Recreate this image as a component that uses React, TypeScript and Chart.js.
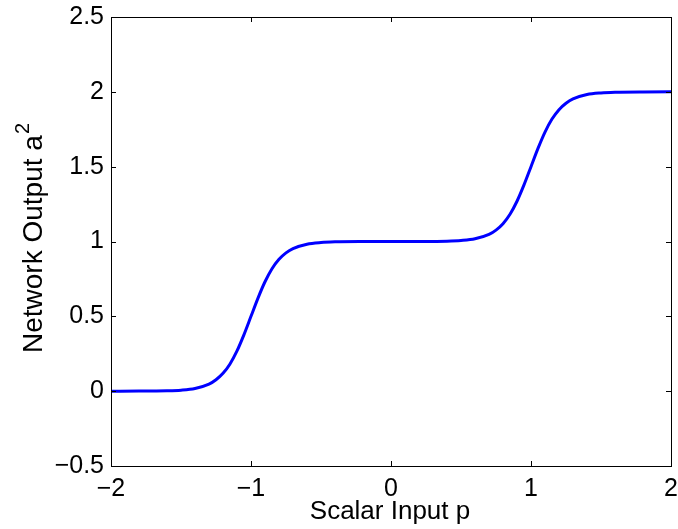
import React, { useEffect, useRef } from "react";
import { Chart, registerables } from "chart.js";

Chart.register(...registerables);

// Scalar input p (x) and network output a^2 (y)
const pValues = [
  -2, -1.8, -1.6, -1.5, -1.4, -1.3, -1.25, -1.2, -1.15, -1.1, -1.05, -1,
  -0.95, -0.9, -0.85, -0.8, -0.75, -0.7, -0.6, -0.5, -0.4, -0.2, 0,
  0.2, 0.4, 0.5, 0.6, 0.7, 0.75, 0.8, 0.85, 0.9, 0.95, 1,
  1.05, 1.1, 1.15, 1.2, 1.25, 1.3, 1.4, 1.5, 1.6, 1.8, 2,
];
const aValues = [
  0.0, 0.0003, 0.0025, 0.0067, 0.018, 0.047, 0.076, 0.119, 0.182, 0.269, 0.378, 0.5,
  0.622, 0.731, 0.818, 0.881, 0.924, 0.953, 0.982, 0.993, 0.9975, 0.9997, 1.0,
  1.0003, 1.0025, 1.007, 1.018, 1.047, 1.076, 1.119, 1.182, 1.269, 1.378, 1.5,
  1.622, 1.731, 1.818, 1.881, 1.924, 1.953, 1.982, 1.993, 1.9975, 1.9997, 2.0,
];

const xTicks = [-2, -1, 0, 1, 2];
const yTicks = [-0.5, 0, 0.5, 1, 1.5, 2, 2.5];
const xTitle = "Scalar Input p";
const yTitleMain = "Network Output a";
const yTitleSup = "2";

const FONT = "'Liberation Sans', Arial, Helvetica, sans-serif";
const TICK_SIZE = 25;
const XTITLE_SIZE = 26;
const YTITLE_SIZE = 28;

const fmt = (v: number) => String(v).replace("-", "\u2212");

const framePlugin = {
  id: "matlabFrame",
  afterDatasetsDraw(chart: any) {
    const { ctx, chartArea } = chart;
    const { left, right, top, bottom } = chartArea;
    const xs = chart.scales.x;
    const ys = chart.scales.y;
    ctx.save();
    ctx.strokeStyle = "#000";
    ctx.lineWidth = 1;
    ctx.beginPath();
    const tl = 5;
    xTicks.forEach((v) => {
      const px = Math.round(xs.getPixelForValue(v)) + 0.5;
      ctx.moveTo(px, bottom);
      ctx.lineTo(px, bottom - tl);
      ctx.moveTo(px, top);
      ctx.lineTo(px, top + tl);
    });
    yTicks.forEach((v) => {
      const py = Math.round(ys.getPixelForValue(v)) + 0.5;
      ctx.moveTo(left, py);
      ctx.lineTo(left + tl, py);
      ctx.moveTo(right, py);
      ctx.lineTo(right - tl, py);
    });
    ctx.stroke();
    ctx.strokeRect(
      Math.round(left) + 0.5,
      Math.round(top) + 0.5,
      Math.round(right - left),
      Math.round(bottom - top)
    );

    // axis titles
    ctx.fillStyle = "#000";
    ctx.font = `${XTITLE_SIZE}px ${FONT}`;
    ctx.textAlign = "center";
    ctx.textBaseline = "alphabetic";
    ctx.fillText(xTitle, (left + right) / 2 - 1, 519);

    ctx.font = `${YTITLE_SIZE}px ${FONT}`;
    const wMain = ctx.measureText(yTitleMain).width;
    const supSize = Math.round(YTITLE_SIZE * 0.7);
    ctx.font = `${supSize}px ${FONT}`;
    const wSup = ctx.measureText(yTitleSup).width;
    const total = wMain + wSup + 1;
    const cy = 238;
    ctx.translate(42, cy + total / 2);
    ctx.rotate(-Math.PI / 2);
    ctx.textAlign = "left";
    ctx.font = `${YTITLE_SIZE}px ${FONT}`;
    ctx.fillText(yTitleMain, 0, 0);
    ctx.font = `${supSize}px ${FONT}`;
    ctx.fillText(yTitleSup, wMain + 1, -YTITLE_SIZE * 0.45);
    ctx.restore();
  },
};

const zeroPad = (s: any) => {
  s.paddingLeft = 0;
  s.paddingRight = 0;
  s.paddingTop = 0;
  s.paddingBottom = 0;
};

export default function App() {
  const ref = useRef<HTMLCanvasElement | null>(null);

  useEffect(() => {
    if (!ref.current) return;
    const data = pValues.map((p, i) => ({ x: p, y: aValues[i] }));
    const chart = new Chart(ref.current, {
      type: "line",
      data: {
        datasets: [
          {
            data,
            borderColor: "#0000ff",
            borderWidth: 3,
            pointRadius: 0,
            cubicInterpolationMode: "monotone",
            fill: false,
          },
        ],
      },
      options: {
        responsive: false,
        animation: false,
        devicePixelRatio: 1,
        layout: { padding: { left: 0, right: 7, top: 17, bottom: 0 } },
        plugins: {
          legend: { display: false },
          tooltip: { enabled: false },
          title: { display: false },
        },
        scales: {
          x: {
            type: "linear",
            min: -2,
            max: 2,
            afterBuildTicks: (s: any) => {
              s.ticks = xTicks.map((v) => ({ value: v }));
            },
            afterFit: (s: any) => {
              s.height = 63;
              zeroPad(s);
            },
            ticks: {
              color: "#000",
              font: { family: FONT, size: TICK_SIZE },
              padding: 8,
              maxRotation: 0,
              autoSkip: false,
              callback: (v: any) => fmt(Number(v)),
            },
            grid: { display: false, drawTicks: false },
            border: { display: false },
          },
          y: {
            type: "linear",
            min: -0.5,
            max: 2.5,
            afterBuildTicks: (s: any) => {
              s.ticks = yTicks.map((v) => ({ value: v }));
            },
            afterFit: (s: any) => {
              s.width = 111;
              zeroPad(s);
            },
            ticks: {
              color: "#000",
              font: { family: FONT, size: TICK_SIZE },
              padding: 7,
              autoSkip: false,
              callback: (v: any) => fmt(Number(v)),
            },
            grid: { display: false, drawTicks: false },
            border: { display: false },
          },
        },
      },
      plugins: [framePlugin],
    });
    return () => chart.destroy();
  }, []);

  return (
    <div style={{ position: "fixed", left: 0, top: 0, width: 678, height: 529, background: "#fff" }}>
      <canvas ref={ref} width={678} height={529} style={{ display: "block" }} />
    </div>
  );
}
